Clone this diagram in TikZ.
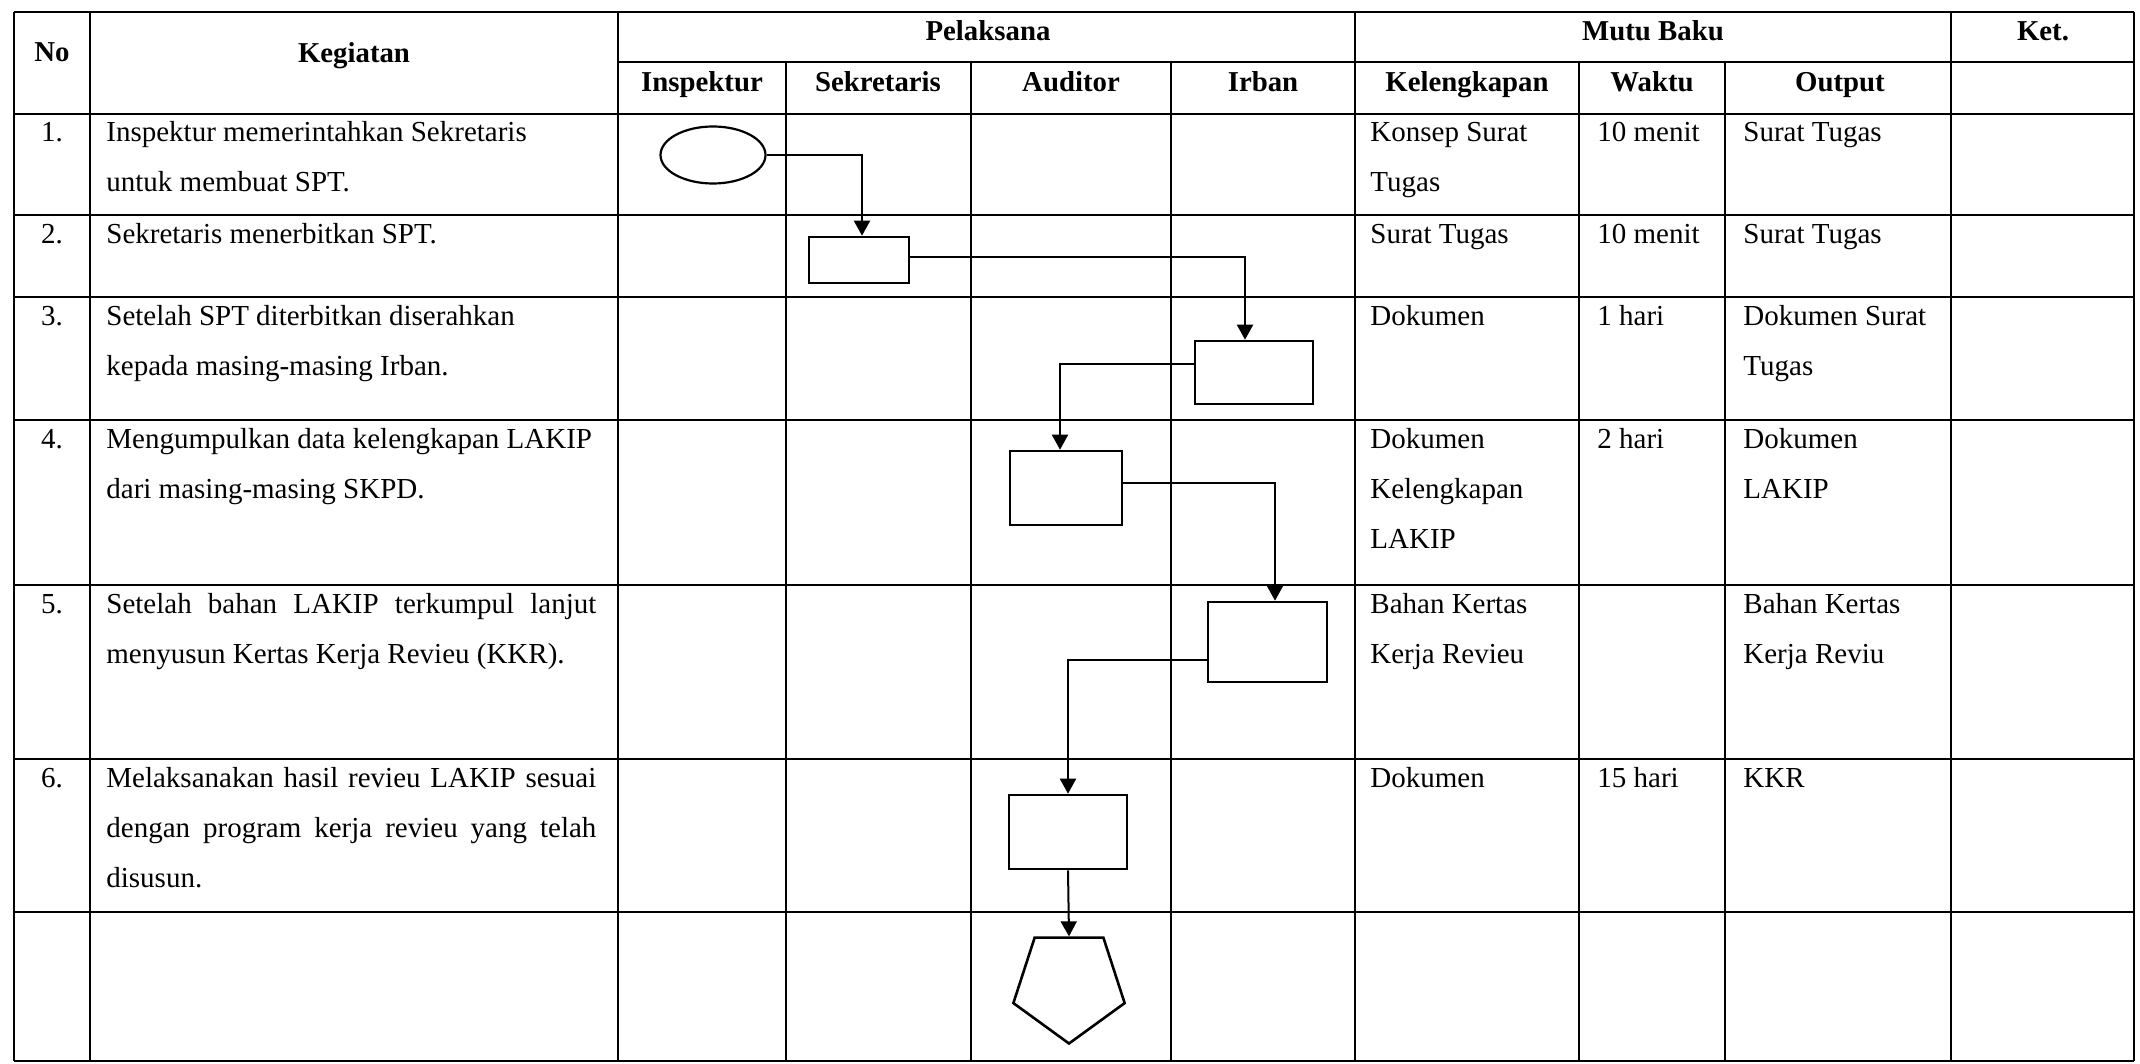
\documentclass[tikz,border=0pt]{standalone}
\usepackage{fontspec}
\setmainfont{Liberation Serif}
\usetikzlibrary{shapes.geometric,arrows.meta}
\begin{document}
\begin{tikzpicture}[x=0.5pt,y=-0.5pt,
  grid/.style={line width=1.2pt},
  hdr/.style={font=\fontsize{14.4}{25}\selectfont\bfseries, anchor=base, inner sep=0},
  cell/.style={font=\fontsize{14.5}{25}\selectfont, anchor=base west, inner sep=0, align=left},
  num/.style={font=\fontsize{14.5}{25}\selectfont, anchor=base, inner sep=0},
  proc/.style={draw, line width=1.3pt, rectangle, inner sep=0},
  flow/.style={line width=1pt, -{Triangle[length=7.5pt,width=8pt]}},
]
\useasboundingbox[fill=white] (0,0) rectangle (2140,1064);

% ---- table grid ----
\foreach \y in {12,114,215,297,420,585,759,912,1061}
  \draw[grid] (14,\y) -- (2134,\y);
\draw[grid] (618,62) -- (2134,62);
\foreach \x in {14,90,618,1355,1951,2134}
  \draw[grid] (\x,12) -- (\x,1061);
\foreach \x in {786,971,1171,1579,1725}
  \draw[grid] (\x,62) -- (\x,1061);

% ---- headers ----
\node[hdr] (hNo) at (52,62) {No};
\node[hdr] (hKeg) at (354,63) {Kegiatan};
\node[hdr] (hPel) at (988,41) {Pelaksana};
\node[hdr] (hMutu) at (1653,41) {Mutu Baku};
\node[hdr] (hKet) at (2043,41) {Ket.};
\node[hdr] (hIns) at (702,92) {Inspektur};
\node[hdr] (hSek) at (878,92) {Sekretaris};
\node[hdr] (hAud) at (1071,92) {Auditor};
\node[hdr] (hIrb) at (1263,92) {Irban};
\node[hdr] (hKel) at (1467,92) {Kelengkapan};
\node[hdr] (hWak) at (1652,92) {Waktu};
\node[hdr] (hOut) at (1840,92) {Output};

% ---- numbers ----
\node[num] (n1) at (52,142) {1.};
\node[num] (n2) at (52,243) {2.};
\node[num] (n3) at (52,325) {3.};
\node[num] (n4) at (52,448) {4.};
\node[num] (n5) at (52,613) {5.};
\node[num] (n6) at (52,787) {6.};

% ---- kegiatan (anchor = baseline of last line) ----
\node[cell] (k1) at (106,192) {Inspektur memerintahkan Sekretaris\\untuk membuat SPT.};
\node[cell] (k2) at (106,243) {Sekretaris menerbitkan SPT.};
\node[cell] (k3) at (106,375) {Setelah SPT diterbitkan diserahkan\\kepada masing-masing Irban.};
\node[cell] (k4) at (106,498) {Mengumpulkan data kelengkapan LAKIP\\dari masing-masing SKPD.};
\node[cell] (k5) at (106,663) {\makebox[245pt][s]{Setelah bahan LAKIP terkumpul lanjut}\\menyusun Kertas Kerja Revieu (KKR).};
\node[cell] (k6) at (106,887) {\makebox[245pt][s]{Melaksanakan hasil revieu LAKIP sesuai}\\\makebox[245pt][s]{dengan program kerja revieu yang telah}\\disusun.};

% ---- kelengkapan ----
\node[cell] (c1) at (1370,192) {Konsep Surat\\Tugas};
\node[cell] (c2) at (1370,243) {Surat Tugas};
\node[cell] (c3) at (1370,325) {Dokumen};
\node[cell] (c4) at (1370,548) {Dokumen\\Kelengkapan\\LAKIP};
\node[cell] (c5) at (1370,663) {Bahan Kertas\\Kerja Revieu};
\node[cell] (c6) at (1370,787) {Dokumen};

% ---- waktu ----
\node[cell] (w1) at (1597,142) {10 menit};
\node[cell] (w2) at (1597,243) {10 menit};
\node[cell] (w3) at (1597,325) {1 hari};
\node[cell] (w4) at (1597,448) {2 hari};
\node[cell] (w6) at (1597,787) {15 hari};

% ---- output ----
\node[cell] (o1) at (1743,142) {Surat Tugas};
\node[cell] (o2) at (1743,243) {Surat Tugas};
\node[cell] (o3) at (1743,375) {Dokumen Surat\\Tugas};
\node[cell] (o4) at (1743,498) {Dokumen\\LAKIP};
\node[cell] (o5) at (1743,663) {Bahan Kertas\\Kerja Reviu};
\node[cell] (o6) at (1743,787) {KKR};

% ---- flow shapes ----
\node[draw, ellipse, line width=1.1pt, minimum width=52.5pt, minimum height=28.5pt, inner sep=0] (st) at (713,155) {};
\node[proc, minimum width=50pt, minimum height=23pt] (b2) at (859,260) {};
\node[proc, minimum width=59pt, minimum height=31.5pt] (b3) at (1254,372.5) {};
\node[proc, minimum width=56pt, minimum height=37pt] (b4) at (1066,488) {};
\node[proc, minimum width=59.5pt, minimum height=40pt] (b5) at (1267.5,642) {};
\node[proc, minimum width=59pt, minimum height=37pt] (b6) at (1068,832) {};
\node[draw, regular polygon, regular polygon sides=5, shape border rotate=180, minimum size=58.5pt, inner sep=0, line width=1.3pt] (en) at (1069,985) {};

% ---- connectors ----
\draw[flow] (st.east) -| ([xshift=1.5pt]b2.north);
\draw[flow] ([yshift=1.5pt]b2.east) -| ([xshift=-4.5pt]b3.north);
\draw[flow] ([yshift=4.5pt]b3.west) -| ([xshift=-3pt]b4.north);
\draw[flow] ([yshift=2.5pt]b4.east) -| ([xshift=3.75pt]b5.north);
\draw[flow] ([yshift=-9pt]b5.west) -| (b6.north);
\draw[flow] (b6.south) -- (en.north);
\end{tikzpicture}
\end{document}
